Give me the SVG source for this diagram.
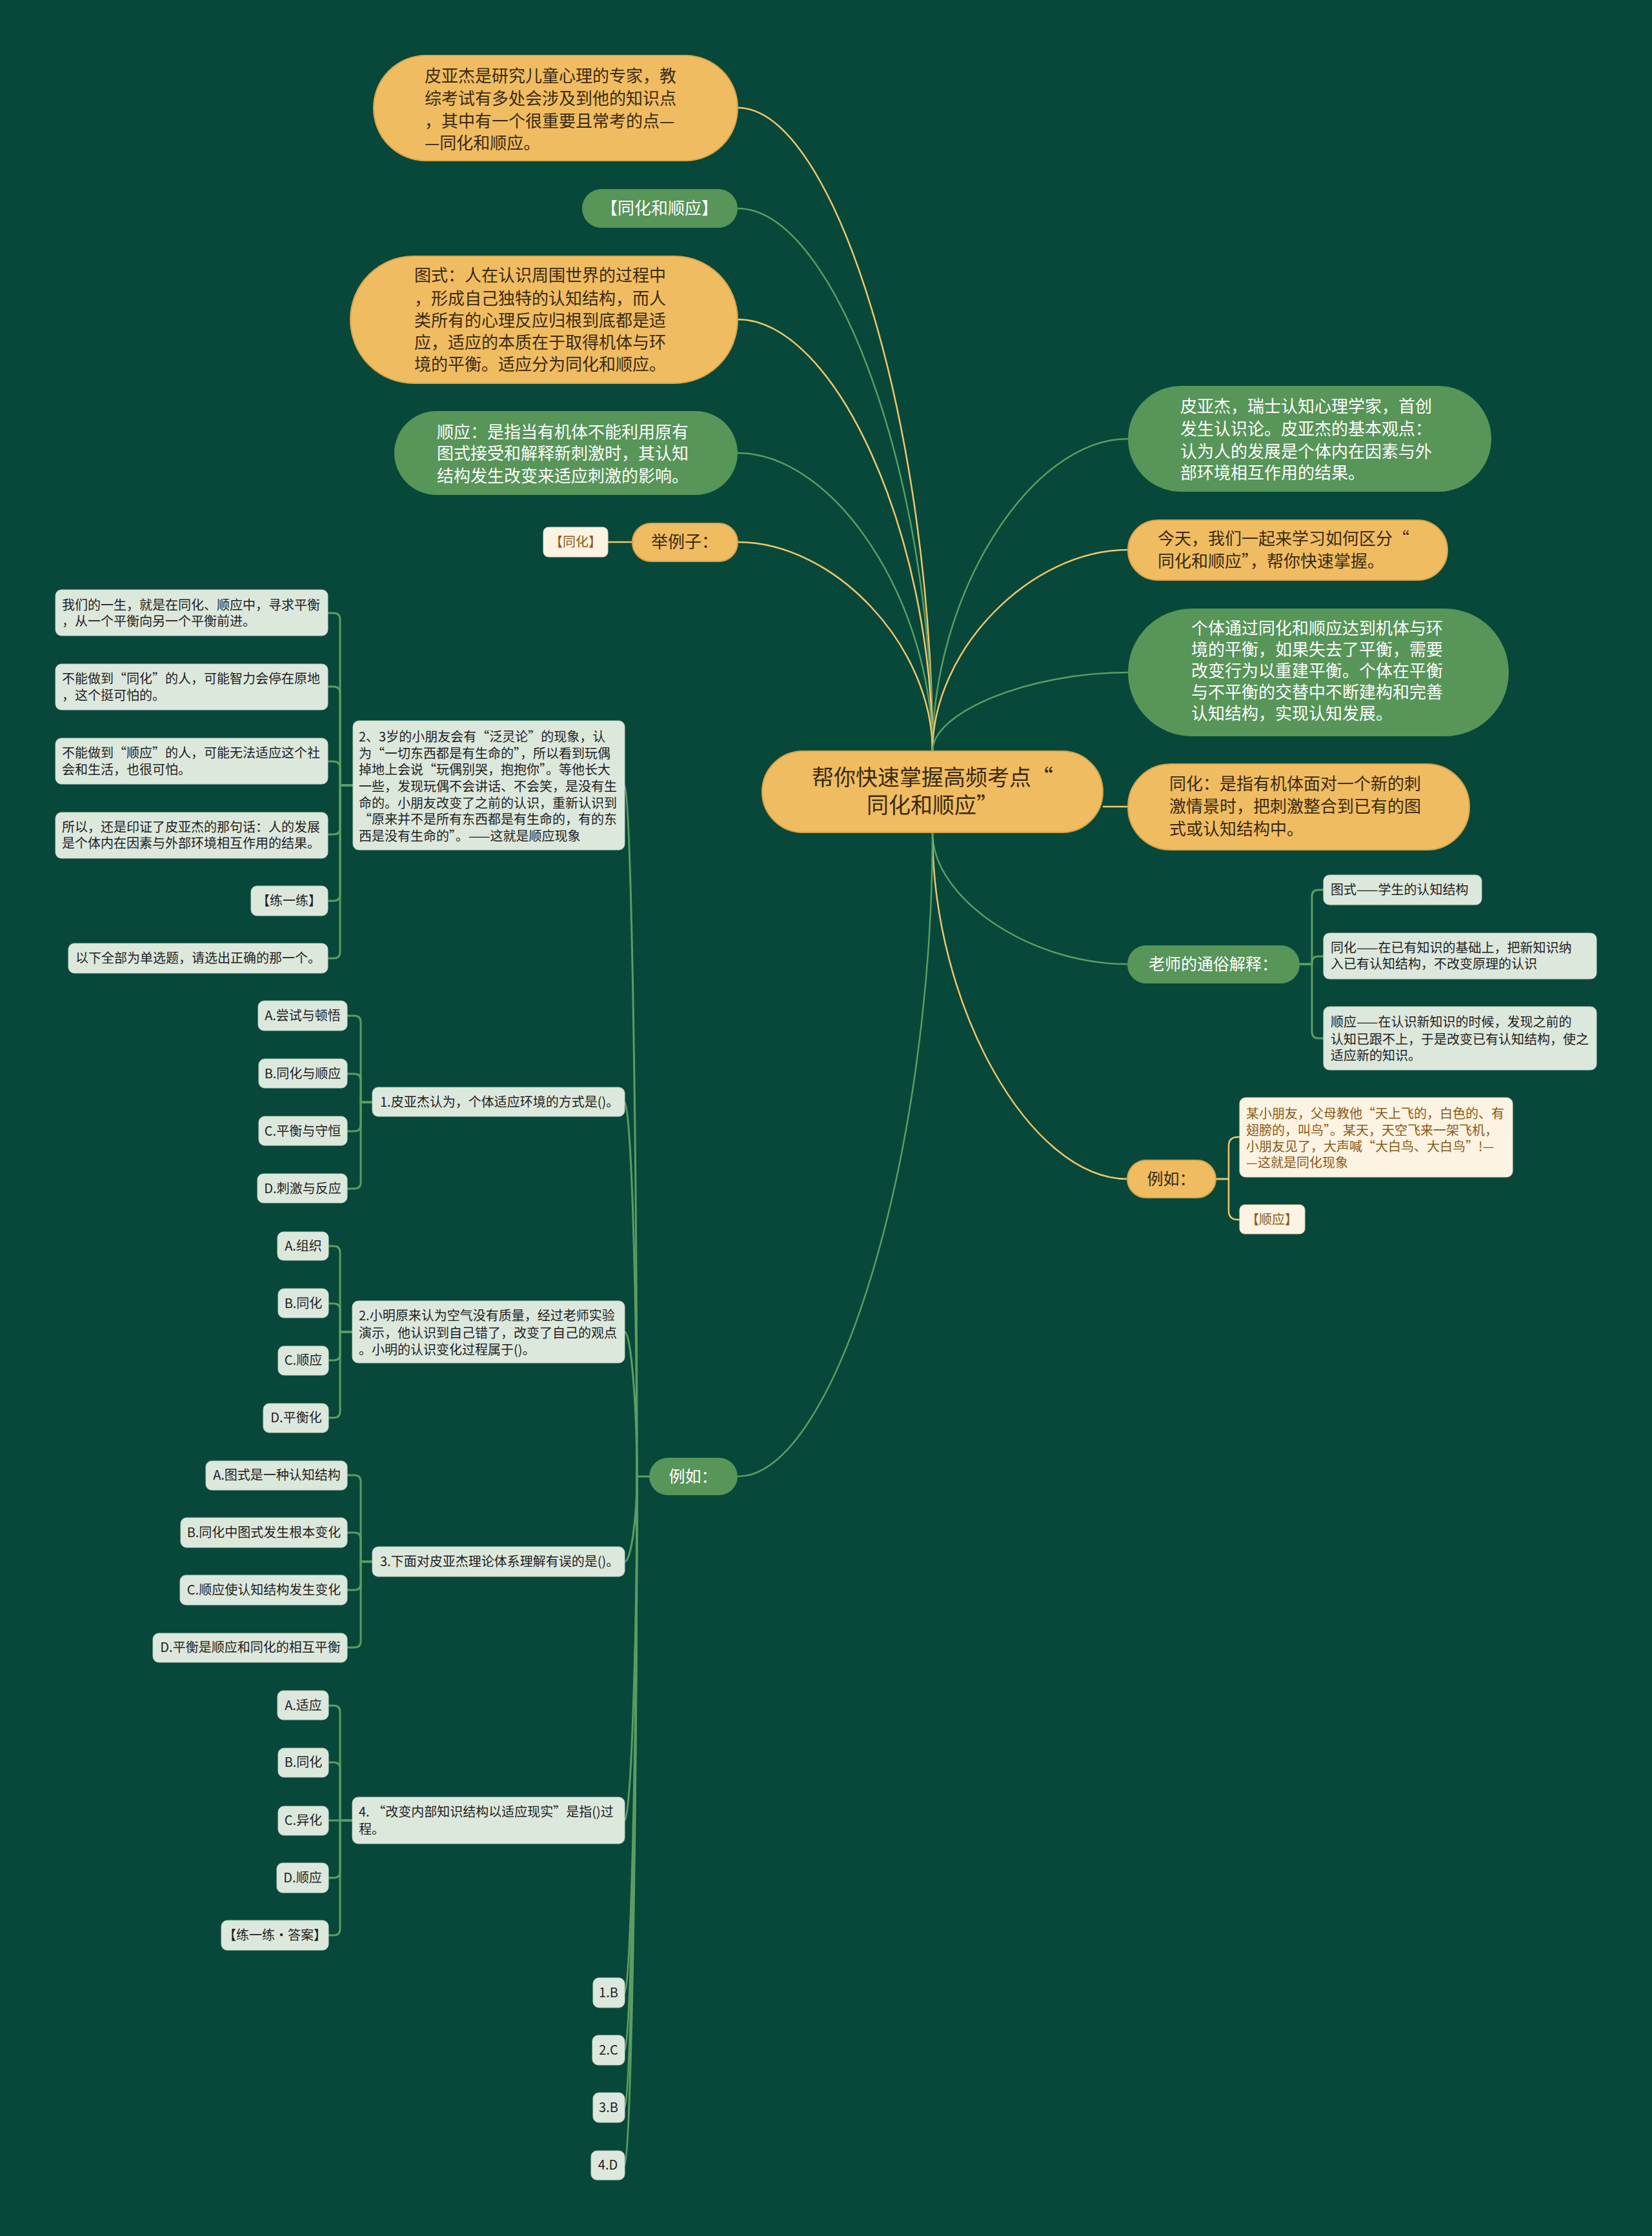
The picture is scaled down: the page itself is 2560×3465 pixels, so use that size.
<svg xmlns="http://www.w3.org/2000/svg" width="2560" height="3465" viewBox="0 0 2560 3465">
<style>
.t{font-family:"Noto Sans CJK SC","Noto Sans",sans-serif}
.f26{font-size:26px}
.f25{font-size:25px}
.f34{font-size:34px}
.f20{font-size:20px}
.or{fill:#f0bc62;stroke:#d9a446;stroke-width:2}
.gr{fill:#579559}
.lt{fill:#dde8dd;stroke:#c3d4c3;stroke-width:1}
.cr{fill:#fdf3e3;stroke:#eadbc0;stroke-width:1}
.dk{fill:#3a2a12}
.wh{fill:#ffffff}
.bk{fill:#1e1e1e}
.br{fill:#8a5a14}
.cy{fill:none;stroke:#f2c66a;stroke-width:2.5}
.cg{fill:none;stroke:#5d9c62;stroke-width:2.5}
.cg3{fill:none;stroke:#5d9c62;stroke-width:3}
</style>
<rect x="0" y="0" width="2560" height="3465" fill="#07483a"/>
<g id="connectors">
<path class="cy" d="M1445 1164 C1445 665 1294 167 1143 167"/>
<path class="cg" d="M1445 1164 C1445 743 1294 323 1143 323"/>
<path class="cy" d="M1445 1164 C1445 829 1294 495 1143 495"/>
<path class="cg" d="M1445 1164 C1445 933 1294 702 1143 702"/>
<path class="cy" d="M1445 1164 C1445 1002 1294 840 1143 840"/>
<path class="cg" d="M1445 1164 C1445 922 1596 680 1748 680"/>
<path class="cy" d="M1445 1164 C1445 1008 1596 852 1748 852"/>
<path class="cg" d="M1445 1164 C1445 1103 1596 1042 1748 1042"/>
<path class="cy" d="M1709 1250 H1748"/>
<path class="cg" d="M1445 1290 C1445 1392 1596 1494 1747 1494"/>
<path class="cy" d="M1445 1290 C1445 1558 1596 1827 1747 1827"/>
<path class="cg" d="M1445 1290 C1445 1789 1294 2288 1143 2288"/>
<path class="cy" d="M980 840 H942"/>
<path class="cg3" d="M2014 1494 H2033 V1389 Q2033 1379 2043 1379 H2051"/>
<path class="cg3" d="M2014 1494 H2033 V1492 Q2033 1482 2043 1482 H2051"/>
<path class="cg3" d="M2014 1494 H2033 V1599 Q2033 1609 2043 1609 H2051"/>
<path class="cy" d="M1884 1827 H1904 V1776 Q1904 1762 1918 1762 H1921"/>
<path class="cy" d="M1884 1827 H1904 V1876 Q1904 1890 1918 1890 H1921"/>
<path class="cg3" d="M1006 2288 H987"/>
<path class="cg3" d="M987 2288 C987 1752 977.5 1217 968 1217"/>
<path class="cg3" d="M987 2288 C987 1998 977.5 1708 968 1708"/>
<path class="cg3" d="M987 2288 C987 2176 977.5 2064 968 2064"/>
<path class="cg3" d="M987 2288 C987 2354 977.5 2420 968 2420"/>
<path class="cg3" d="M987 2288 C987 2554 977.5 2821 968 2821"/>
<path class="cg3" d="M987 2288 C987 2688 977.5 3088 968 3088"/>
<path class="cg3" d="M987 2288 C987 2732 977.5 3177 968 3177"/>
<path class="cg3" d="M987 2288 C987 2777 977.5 3266 968 3266"/>
<path class="cg3" d="M987 2288 C987 2821 977.5 3355 968 3355"/>
<path class="cg3" d="M547 1217 H527 V960 Q527 950 517 950 H508"/>
<path class="cg3" d="M547 1217 H527 V1074 Q527 1064 517 1064 H508"/>
<path class="cg3" d="M547 1217 H527 V1190 Q527 1180 517 1180 H508"/>
<path class="cg3" d="M547 1217 H527 V1283 Q527 1293 517 1293 H508"/>
<path class="cg3" d="M547 1217 H527 V1386 Q527 1396 517 1396 H508"/>
<path class="cg3" d="M547 1217 H527 V1475 Q527 1485 517 1485 H508"/>
<path class="cg3" d="M577 1708 H559 V1584 Q559 1574 549 1574 H538"/>
<path class="cg3" d="M577 1708 H559 V1674 Q559 1664 549 1664 H538"/>
<path class="cg3" d="M577 1708 H559 V1743 Q559 1753 549 1753 H538"/>
<path class="cg3" d="M577 1708 H559 V1832 Q559 1842 549 1842 H538"/>
<path class="cg3" d="M546 2064 H527 V1941 Q527 1931 517 1931 H509"/>
<path class="cg3" d="M546 2064 H527 V2030 Q527 2020 517 2020 H509"/>
<path class="cg3" d="M546 2064 H527 V2098 Q527 2108 517 2108 H509"/>
<path class="cg3" d="M546 2064 H527 V2187 Q527 2197 517 2197 H509"/>
<path class="cg3" d="M577 2420 H559 V2296 Q559 2286 549 2286 H538"/>
<path class="cg3" d="M577 2420 H559 V2385 Q559 2375 549 2375 H538"/>
<path class="cg3" d="M577 2420 H559 V2454 Q559 2464 549 2464 H538"/>
<path class="cg3" d="M577 2420 H559 V2543 Q559 2553 549 2553 H538"/>
<path class="cg3" d="M546 2821 H527 V2653 Q527 2643 517 2643 H509"/>
<path class="cg3" d="M546 2821 H527 V2741 Q527 2731 517 2731 H509"/>
<path class="cg3" d="M546 2821 H509"/>
<path class="cg3" d="M546 2821 H527 V2900 Q527 2910 517 2910 H509"/>
<path class="cg3" d="M546 2821 H527 V2989 Q527 2999 517 2999 H509"/>
</g>

<g id="n-root"><rect class="or" x="1181" y="1164" width="528" height="126" rx="63"/>
<text class="t f34 dk" text-anchor="middle"><tspan x="1445" y="1217">帮你快速掌握高频考点“</tspan><tspan x="1445" y="1260">同化和顺应”</tspan></text></g>

<g id="n-intro"><rect class="or" x="579" y="86" width="564" height="163" rx="81"/>
<text class="t f26 dk"><tspan x="658" y="127">皮亚杰是研究儿童心理的专家，教</tspan><tspan x="658" y="162">综考试有多处会涉及到他的知识点</tspan><tspan x="658" y="197">，其中有一个很重要且常考的点—</tspan><tspan x="658" y="231">—同化和顺应。</tspan></text></g>

<g id="n-title"><rect class="gr" x="902" y="293" width="241" height="60" rx="30"/>
<text class="t f26 wh" x="1022" y="332" text-anchor="middle">【同化和顺应】</text></g>

<g id="n-schema"><rect class="or" x="543" y="397" width="600" height="197" rx="98"/>
<text class="t f26 dk"><tspan x="642" y="436">图式：人在认识周围世界的过程中</tspan><tspan x="642" y="472">，形成自己独特的认知结构，而人</tspan><tspan x="642" y="506">类所有的心理反应归根到底都是适</tspan><tspan x="642" y="540">应，适应的本质在于取得机体与环</tspan><tspan x="642" y="574">境的平衡。适应分为同化和顺应。</tspan></text></g>

<g id="n-accom"><rect class="gr" x="611" y="637" width="532" height="130" rx="65"/>
<text class="t f26 wh"><tspan x="677" y="679">顺应：是指当有机体不能利用原有</tspan><tspan x="677" y="712">图式接受和解释新刺激时，其认知</tspan><tspan x="677" y="747">结构发生改变来适应刺激的影响。</tspan></text></g>

<g id="n-jlz"><rect class="or" x="980" y="811" width="163" height="59" rx="29"/>
<text class="t f26 dk" x="1061" y="849" text-anchor="middle">举例子：</text></g>

<g id="n-tonghua-tag"><rect class="cr" x="842" y="817" width="100" height="46" rx="8"/>
<text class="t f20 br" x="892" y="847" text-anchor="middle">【同化】</text></g>

<g id="n-piaget"><rect class="gr" x="1748" y="598" width="563" height="164" rx="82"/>
<text class="t f26 wh"><tspan x="1829" y="639">皮亚杰，瑞士认知心理学家，首创</tspan><tspan x="1829" y="674">发生认识论。皮亚杰的基本观点：</tspan><tspan x="1829" y="709">认为人的发展是个体内在因素与外</tspan><tspan x="1829" y="742">部环境相互作用的结果。</tspan></text></g>

<g id="n-today"><rect class="or" x="1748" y="806" width="495" height="93" rx="46"/>
<text class="t f26 dk"><tspan x="1794" y="844">今天，我们一起来学习如何区分“</tspan><tspan x="1794" y="879">同化和顺应”，帮你快速掌握。</tspan></text></g>

<g id="n-balance"><rect class="gr" x="1748" y="943" width="590" height="198" rx="99"/>
<text class="t f26 wh"><tspan x="1846" y="983">个体通过同化和顺应达到机体与环</tspan><tspan x="1846" y="1016">境的平衡，如果失去了平衡，需要</tspan><tspan x="1846" y="1049">改变行为以重建平衡。个体在平衡</tspan><tspan x="1846" y="1082">与不平衡的交替中不断建构和完善</tspan><tspan x="1846" y="1115">认知结构，实现认知发展。</tspan></text></g>

<g id="n-assim"><rect class="or" x="1748" y="1184" width="529" height="133" rx="66"/>
<text class="t f26 dk"><tspan x="1812" y="1224">同化：是指有机体面对一个新的刺</tspan><tspan x="1812" y="1259">激情景时，把刺激整合到已有的图</tspan><tspan x="1812" y="1294">式或认知结构中。</tspan></text></g>

<g id="n-teacher"><rect class="gr" x="1747" y="1465" width="267" height="59" rx="29"/>
<text class="t f25 wh" x="1880" y="1503" text-anchor="middle">老师的通俗解释：</text></g>

<g id="n-t1"><rect class="lt" x="2051" y="1356" width="245" height="46" rx="9"/>
<text class="t f20 bk" x="2062" y="1386">图式——学生的认知结构</text></g>
<g id="n-t2"><rect class="lt" x="2051" y="1446" width="423" height="71" rx="9"/>
<text class="t f20 bk"><tspan x="2062" y="1476">同化——在已有知识的基础上，把新知识纳</tspan><tspan x="2062" y="1501">入已有认知结构，不改变原理的认识</tspan></text></g>
<g id="n-t3"><rect class="lt" x="2051" y="1560" width="423" height="98" rx="9"/>
<text class="t f20 bk"><tspan x="2062" y="1591">顺应——在认识新知识的时候，发现之前的</tspan><tspan x="2062" y="1618">认知已跟不上，于是改变已有认知结构，使之</tspan><tspan x="2062" y="1643">适应新的知识。</tspan></text></g>

<g id="n-egR"><rect class="or" x="1747" y="1798" width="137" height="58" rx="29"/>
<text class="t f25 dk" x="1815" y="1836" text-anchor="middle">例如：</text></g>
<g id="n-bird"><rect class="cr" x="1921" y="1701" width="423" height="123" rx="9"/>
<text class="t f20 br"><tspan x="1931" y="1733">某小朋友，父母教他“天上飞的，白色的、有</tspan><tspan x="1931" y="1759">翅膀的，叫鸟”。某天，天空飞来一架飞机，</tspan><tspan x="1931" y="1784">小朋友见了，大声喊“大白鸟、大白鸟”!—</tspan><tspan x="1931" y="1809">—这就是同化现象</tspan></text></g>
<g id="n-shunying-tag"><rect class="cr" x="1921" y="1867" width="101" height="45" rx="8"/>
<text class="t f20 br" x="1971" y="1897" text-anchor="middle">【顺应】</text></g>

<g id="n-egL"><rect class="gr" x="1006" y="2259" width="137" height="58" rx="29"/>
<text class="t f25 wh" x="1074" y="2297" text-anchor="middle">例如：</text></g>

<g id="n-kid"><rect class="lt" x="547" y="1117" width="421" height="200" rx="9"/>
<text class="t f20 bk"><tspan x="556" y="1149">2、3岁的小朋友会有“泛灵论”的现象，认</tspan><tspan x="556" y="1175">为“一切东西都是有生命的”，所以看到玩偶</tspan><tspan x="556" y="1200">掉地上会说“玩偶别哭，抱抱你”。等他长大</tspan><tspan x="556" y="1226">一些，发现玩偶不会讲话、不会笑，是没有生</tspan><tspan x="556" y="1252">命的。小朋友改变了之前的认识，重新认识到</tspan><tspan x="556" y="1277">“原来并不是所有东西都是有生命的，有的东</tspan><tspan x="556" y="1303">西是没有生命的”。——这就是顺应现象</tspan></text></g>

<g id="n-k1"><rect class="lt" x="86" y="914" width="422" height="71" rx="9"/>
<text class="t f20 bk"><tspan x="96" y="945">我们的一生，就是在同化、顺应中，寻求平衡</tspan><tspan x="96" y="970">，从一个平衡向另一个平衡前进。</tspan></text></g>
<g id="n-k2"><rect class="lt" x="86" y="1029" width="422" height="71" rx="9"/>
<text class="t f20 bk"><tspan x="96" y="1059">不能做到“同化”的人，可能智力会停在原地</tspan><tspan x="96" y="1085">，这个挺可怕的。</tspan></text></g>
<g id="n-k3"><rect class="lt" x="86" y="1144" width="422" height="71" rx="9"/>
<text class="t f20 bk"><tspan x="96" y="1174">不能做到“顺应”的人，可能无法适应这个社</tspan><tspan x="96" y="1200">会和生活，也很可怕。</tspan></text></g>
<g id="n-k4"><rect class="lt" x="86" y="1259" width="422" height="71" rx="9"/>
<text class="t f20 bk"><tspan x="96" y="1289">所以，还是印证了皮亚杰的那句话：人的发展</tspan><tspan x="96" y="1314">是个体内在因素与外部环境相互作用的结果。</tspan></text></g>
<g id="n-k5"><rect class="lt" x="389" y="1373" width="119" height="46" rx="9"/>
<text class="t f20 bk" x="448" y="1403" text-anchor="middle">【练一练】</text></g>
<g id="n-k6"><rect class="lt" x="106" y="1462" width="402" height="46" rx="9"/>
<text class="t f20 bk" x="117" y="1492">以下全部为单选题，请选出正确的那一个。</text></g>

<g id="n-q1"><rect class="lt" x="577" y="1685" width="391" height="45" rx="9"/>
<text class="t f20 bk" x="589" y="1715">1.皮亚杰认为，个体适应环境的方式是()。</text></g>
<g id="n-q1a"><rect class="lt" x="400" y="1551" width="138" height="46" rx="9"/><text class="t f20 bk" x="469" y="1581" text-anchor="middle">A.尝试与顿悟</text></g>
<g id="n-q1b"><rect class="lt" x="401" y="1641" width="137" height="45" rx="9"/><text class="t f20 bk" x="469" y="1671" text-anchor="middle">B.同化与顺应</text></g>
<g id="n-q1c"><rect class="lt" x="401" y="1730" width="137" height="45" rx="9"/><text class="t f20 bk" x="469" y="1760" text-anchor="middle">C.平衡与守恒</text></g>
<g id="n-q1d"><rect class="lt" x="399" y="1819" width="139" height="45" rx="9"/><text class="t f20 bk" x="469" y="1849" text-anchor="middle">D.刺激与反应</text></g>

<g id="n-q2"><rect class="lt" x="546" y="2016" width="422" height="96" rx="9"/>
<text class="t f20 bk"><tspan x="556" y="2046">2.小明原来认为空气没有质量，经过老师实验</tspan><tspan x="556" y="2073">演示，他认识到自己错了，改变了自己的观点</tspan><tspan x="556" y="2099">。小明的认识变化过程属于()。</tspan></text></g>
<g id="n-q2a"><rect class="lt" x="430" y="1909" width="79" height="44" rx="9"/><text class="t f20 bk" x="470" y="1938" text-anchor="middle">A.组织</text></g>
<g id="n-q2b"><rect class="lt" x="431" y="1997" width="78" height="45" rx="9"/><text class="t f20 bk" x="470" y="2027" text-anchor="middle">B.同化</text></g>
<g id="n-q2c"><rect class="lt" x="431" y="2086" width="78" height="45" rx="9"/><text class="t f20 bk" x="470" y="2115" text-anchor="middle">C.顺应</text></g>
<g id="n-q2d"><rect class="lt" x="408" y="2175" width="101" height="45" rx="9"/><text class="t f20 bk" x="459" y="2204" text-anchor="middle">D.平衡化</text></g>

<g id="n-q3"><rect class="lt" x="577" y="2397" width="391" height="46" rx="9"/>
<text class="t f20 bk" x="589" y="2427">3.下面对皮亚杰理论体系理解有误的是()。</text></g>
<g id="n-q3a"><rect class="lt" x="319" y="2264" width="219" height="45" rx="9"/><text class="t f20 bk" x="429" y="2293" text-anchor="middle">A.图式是一种认知结构</text></g>
<g id="n-q3b"><rect class="lt" x="280" y="2352" width="258" height="46" rx="9"/><text class="t f20 bk" x="409" y="2382" text-anchor="middle">B.同化中图式发生根本变化</text></g>
<g id="n-q3c"><rect class="lt" x="279" y="2441" width="259" height="46" rx="9"/><text class="t f20 bk" x="409" y="2471" text-anchor="middle">C.顺应使认知结构发生变化</text></g>
<g id="n-q3d"><rect class="lt" x="237" y="2531" width="301" height="45" rx="9"/><text class="t f20 bk" x="388" y="2560" text-anchor="middle">D.平衡是顺应和同化的相互平衡</text></g>

<g id="n-q4"><rect class="lt" x="546" y="2785" width="422" height="72" rx="9"/>
<text class="t f20 bk"><tspan x="556" y="2815">4. “改变内部知识结构以适应现实”是指()过</tspan><tspan x="556" y="2842">程。</tspan></text></g>
<g id="n-q4a"><rect class="lt" x="430" y="2620" width="79" height="45" rx="9"/><text class="t f20 bk" x="470" y="2650" text-anchor="middle">A.适应</text></g>
<g id="n-q4b"><rect class="lt" x="431" y="2709" width="78" height="45" rx="9"/><text class="t f20 bk" x="470" y="2738" text-anchor="middle">B.同化</text></g>
<g id="n-q4c"><rect class="lt" x="431" y="2799" width="78" height="45" rx="9"/><text class="t f20 bk" x="470" y="2828" text-anchor="middle">C.异化</text></g>
<g id="n-q4d"><rect class="lt" x="429" y="2887" width="80" height="46" rx="9"/><text class="t f20 bk" x="469" y="2917" text-anchor="middle">D.顺应</text></g>
<g id="n-ans-tag"><rect class="lt" x="343" y="2976" width="166" height="46" rx="9"/><text class="t f20 bk" x="426" y="3006" text-anchor="middle">【练一练·答案】</text></g>

<g id="n-a1"><rect class="lt" x="919" y="3065" width="49" height="46" rx="9"/><text class="t f20 bk" x="943" y="3095" text-anchor="middle">1.B</text></g>
<g id="n-a2"><rect class="lt" x="918" y="3154" width="50" height="46" rx="9"/><text class="t f20 bk" x="943" y="3184" text-anchor="middle">2.C</text></g>
<g id="n-a3"><rect class="lt" x="919" y="3243" width="49" height="46" rx="9"/><text class="t f20 bk" x="943" y="3273" text-anchor="middle">3.B</text></g>
<g id="n-a4"><rect class="lt" x="916" y="3333" width="52" height="45" rx="9"/><text class="t f20 bk" x="942" y="3362" text-anchor="middle">4.D</text></g>
</svg>
